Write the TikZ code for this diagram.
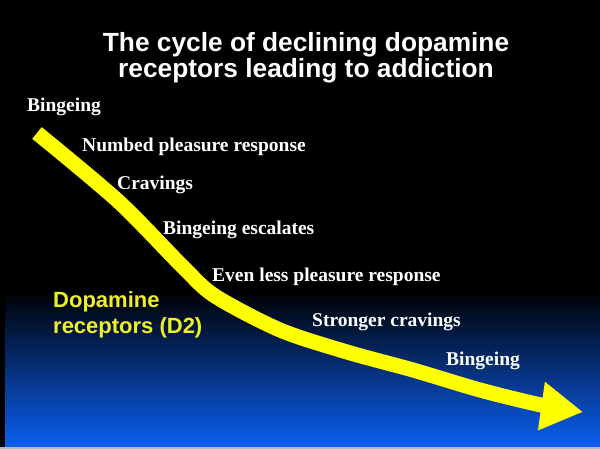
\documentclass[tikz,border=0pt]{standalone}
\usepackage{fontspec}
\setmainfont{Liberation Serif}
\setsansfont{Liberation Sans}
\usepackage{tikz}
\usetikzlibrary{arrows.meta}

\definecolor{dyellow}{RGB}{240,240,40}
\definecolor{ayellow}{RGB}{255,255,0}
\definecolor{deepblue}{RGB}{12,95,240}

\begin{document}
\begin{tikzpicture}[x=1pt,y=-1pt,
	stage/.style={anchor=base west,text=white,inner sep=0pt,font=\rmfamily\bfseries\fontsize{19.5}{22}\selectfont},
	headline/.style={anchor=base,text=white,inner sep=0pt,font=\sffamily\bfseries\fontsize{26.3}{28}\selectfont},
	receptor/.style={anchor=base west,text=dyellow,inner sep=0pt,font=\sffamily\bfseries\fontsize{22}{25}\selectfont}]
			\useasboundingbox (0,0) rectangle (600,449);
			\fill[black] (0,0) rectangle (600,449);
			\foreach \k [evaluate=\k as \p using \k*100/78] in {0,...,78}
				\fill[deepblue!\p!black] (5,{290+2*\k}) rectangle (600,{min(292.5+2*\k,447)});
			\fill[gray!55] (0,447) rectangle (600,449);
			
			\node[headline] (t1)at(306,52) {The cycle of declining dopamine};
			\node[headline] (t2)at(306,78) {receptors leading to addiction};
			
			\draw[line width=15pt,draw=ayellow,-{Triangle[length=42pt,width=46pt]}]
				plot[smooth,tension=0.5] coordinates {(37,133) (118,201) (183,267) (215,296) (280,330) (347,352) (413,370) (480,390) (541,405) (583,412)};
			
			\node[stage] (s1)at(27,112) {Bingeing};
			\node[stage] (s2)at(82,152) {Numbed pleasure response};
			\node[stage] (s3)at(117,190) {Cravings};
			\node[stage] (s4)at(163,235) {Bingeing escalates};
			\node[stage] (s5)at(212,282) {Even less pleasure response};
			\node[stage] (s6)at(312,326) {Stronger cravings};
			\node[stage] (s7)at(446,365) {Bingeing};
			
			\node[receptor] (d1)at(53,308) {Dopamine};
			\node[receptor] (d2)at(53,334) {receptors (D2)};
		\end{tikzpicture}
\end{document}
